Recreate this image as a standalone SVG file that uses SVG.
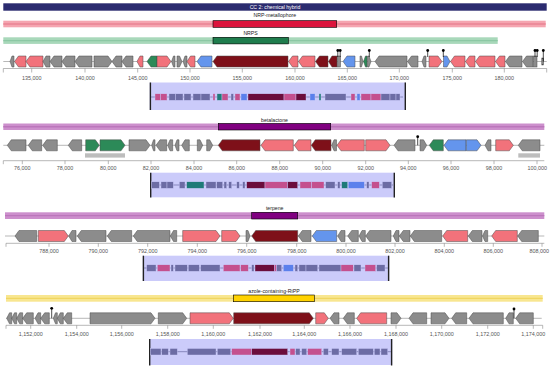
<svg xmlns="http://www.w3.org/2000/svg" width="550" height="370" viewBox="0 0 550 370">
<style>
text{font-family:"Liberation Sans",Arial,sans-serif}
.lbl{font-size:5.2px;fill:#222;text-anchor:middle}
.ax{font-size:5.4px;fill:#555;text-anchor:middle}
.axl{stroke:#888;stroke-width:.6;fill:none}
.bb{stroke:#999;stroke-width:.7}
.core{stroke:#000;stroke-width:.6}
.g,.p,.r,.n,.b{stroke:#4a4a4a;stroke-width:.5}
.g{fill:#8c8c8c}.p{fill:#f2727b}.r{fill:#7e1019}.n{fill:#2c8a58}.b{fill:#6495ed}
.box{fill:#cbcbfa}
.edge{stroke:#222;stroke-width:1.4}
.cl{stroke:#6c6ca4;stroke-width:.7}
.s,.k,.m,.u,.t{stroke:#cbcbfa;stroke-width:.4}
.s{fill:#6c6ca4}.k{fill:#c4508e}.m{fill:#6b0d3c}.u{fill:#5b80ec}.t{fill:#1e7b78}
.pin{stroke:#000;stroke-width:.7}
.dot{fill:#000}
.sh{fill:#bdbdbd}
</style>

<!-- ================= Panel 1 ================= -->
<g id="panel-nrps">
  <g id="cc-bar">
    <rect x="3.3" y="3.3" width="543.4" height="7.4" fill="#2b2b6f"/>
    <text x="275" y="8.8" class="lbl" style="fill:#fff">CC 2: chemical hybrid</text>
  </g>
  <g id="nrp-metallophore">
    <text x="274.8" y="17.4" class="lbl">NRP-metallophore</text>
    <rect x="3.3" y="20.7" width="542.4" height="6.6" fill="#f5a5b0"/>
    <line x1="3.3" y1="24" x2="545.7" y2="24" stroke="#e98595" stroke-width="1.3"/>
    <rect x="213" y="20.7" width="123.7" height="6.6" fill="#dc143c" class="core"/>
  </g>
  <g id="nrps">
    <text x="250.6" y="34.8" class="lbl">NRPS</text>
    <rect x="3.3" y="37.3" width="494.4" height="6.6" fill="#a8d8ba"/>
    <line x1="3.3" y1="40.6" x2="497.7" y2="40.6" stroke="#8cc8a4" stroke-width="1.3"/>
    <rect x="213" y="37.3" width="75.3" height="6.6" fill="#1f7d4d" class="core"/>
  </g>
  <g id="genes-1">
    <line x1="3.3" y1="61.5" x2="546.7" y2="61.5" class="bb"/>
    <path class="g" d="M10,61.5 L12,56 H14 V67 H12 Z"/>
    <path class="p" d="M14.5,61.5 L18.5,56 H26 V67 H18.5 Z"/>
    <path class="p" d="M26,61.5 L30,56 H43 V67 H30 Z"/>
    <path class="g" d="M43,61.5 L46,56 H50 V67 H46 Z"/>
    <path class="g" d="M50,61.5 L54,56 H62 V67 H54 Z"/>
    <path class="g" d="M62,61.5 L66,56 H75 V67 H66 Z"/>
    <path class="g" d="M75,61.5 L79,56 H92 V67 H79 Z"/>
    <path class="g" d="M94,56 H108 L112,61.5 L108,67 H94 Z"/>
    <path class="g" d="M112,61.5 L116,56 H122 V67 H116 Z"/>
    <path class="g" d="M122,61.5 L126,56 H133 V67 H126 Z"/>
    <path class="p" d="M137,61.5 L140,56 H143 V67 H140 Z"/>
    <path class="n" d="M147,61.5 L151,56 H157 V67 H151 Z"/>
    <path class="p" d="M157,56 H167 L171,61.5 L167,67 H157 Z"/>
    <path class="g" d="M171.5,61.5 L173.5,56 H175 V67 H173.5 Z"/>
    <path class="g" d="M177,56 H179.5 L182,61.5 L179.5,67 H177 Z"/>
    <path class="g" d="M183,61.5 L185,56 H187 V67 H185 Z"/>
    <path class="p" d="M187,61.5 L190.5,56 H195 V67 H190.5 Z"/>
    <path class="b" d="M197,61.5 L201,56 H212 V67 H201 Z"/>
    <path class="r" d="M213,61.5 L217,56 H288 V67 H217 Z"/>
    <path class="p" d="M288.5,61.5 L292.5,56 H298 V67 H292.5 Z"/>
    <path class="p" d="M298.5,61.5 L302.5,56 H315 V67 H302.5 Z"/>
    <path class="r" d="M315.5,61.5 L319.5,56 H328 V67 H319.5 Z"/>
    <path class="r" d="M328.5,61.5 L332,56 H337 V67 H332 Z"/>
    <rect class="g" x="337.5" y="56" width="3" height="11"/>
    <path class="b" d="M343,61.5 L347,56 H355 V67 H347 Z"/>
    <path class="g" d="M360,56 H361.5 L363,61.5 L361.5,67 H360 Z"/>
    <path class="n" d="M363.5,61.5 L365.5,56 H367 V67 H365.5 Z"/>
    <path class="g" d="M367.5,56 H369 L371,61.5 L369,67 H367.5 Z"/>
    <path class="g" d="M375,61.5 L379,56 H407 V67 H379 Z"/>
    <path class="g" d="M407.5,61.5 L411.5,56 H418 V67 H411.5 Z"/>
    <path class="g" d="M422,61.5 L424,56 H426 V67 H424 Z"/>
    <path class="p" d="M429,56 H438 L442,61.5 L438,67 H429 Z"/>
    <path class="b" d="M443.5,56 H447 L450,61.5 L447,67 H443.5 Z"/>
    <path class="p" d="M450.5,61.5 L454.5,56 H465 V67 H454.5 Z"/>
    <path class="p" d="M465.5,61.5 L469.5,56 H475 V67 H469.5 Z"/>
    <path class="p" d="M475.5,61.5 L479.5,56 H495 V67 H479.5 Z"/>
    <path class="p" d="M495.5,61.5 L499.5,56 H505 V67 H499.5 Z"/>
    <path class="g" d="M505.5,61.5 L509.5,56 H522 V67 H509.5 Z"/>
    <path class="g" d="M522.5,61.5 L526.5,56 H533 V67 H526.5 Z"/>
    <rect class="g" x="533.5" y="56" width="3.5" height="11"/>
    <rect class="g" x="541.8" y="58" width="1.8" height="7"/>
    <g id="pins-1">
      <line class="pin" x1="337.8" y1="50.5" x2="337.8" y2="57"/><circle class="dot" cx="337.8" cy="50.5" r="1.4"/>
      <line class="pin" x1="340.2" y1="50.5" x2="340.2" y2="57"/><circle class="dot" cx="340.2" cy="50.5" r="1.4"/>
      <line class="pin" x1="369.3" y1="50.5" x2="369.3" y2="57"/><circle class="dot" cx="369.3" cy="50.5" r="1.4"/>
      <line class="pin" x1="427.7" y1="50.5" x2="427.7" y2="57"/><circle class="dot" cx="427.7" cy="50.5" r="1.4"/>
      <line class="pin" x1="443.3" y1="50.5" x2="443.3" y2="57"/><circle class="dot" cx="443.3" cy="50.5" r="1.4"/>
      <line class="pin" x1="535" y1="50.5" x2="535" y2="57"/><circle class="dot" cx="535" cy="50.5" r="1.4"/>
      <line class="pin" x1="537.2" y1="50.5" x2="537.2" y2="57"/><circle class="dot" cx="537.2" cy="50.5" r="1.4"/>
      <line class="pin" x1="543.3" y1="50.5" x2="543.3" y2="61.5"/><circle class="dot" cx="543.3" cy="50.5" r="1.4"/>
    </g>
  </g>
  <g id="axis-1">
    <path class="axl" d="M3.3,68.5 H546.7 M3.3,68.5 v4 M31.7,68.5 v4 M85,68.5 v4 M137.7,68.5 v4 M190,68.5 v4 M242.3,68.5 v4 M295,68.5 v4 M347.3,68.5 v4 M399.3,68.5 v4 M452.3,68.5 v4 M504.3,68.5 v4 M546.7,68.5 v4"/>
    <text class="ax" x="31.7" y="79.5">135,000</text>
    <text class="ax" x="85" y="79.5">140,000</text>
    <text class="ax" x="137.7" y="79.5">145,000</text>
    <text class="ax" x="190" y="79.5">150,000</text>
    <text class="ax" x="242.3" y="79.5">155,000</text>
    <text class="ax" x="295" y="79.5">160,000</text>
    <text class="ax" x="347.3" y="79.5">165,000</text>
    <text class="ax" x="399.3" y="79.5">170,000</text>
    <text class="ax" x="452.3" y="79.5">175,000</text>
    <text class="ax" x="504.3" y="79.5">180,000</text>
  </g>
  <g id="zoom-1">
    <rect class="box" x="149.7" y="82.5" width="256.3" height="27.5"/>
    <line class="edge" x1="150.4" y1="82.5" x2="150.4" y2="110"/>
    <line class="edge" x1="405.3" y1="82.5" x2="405.3" y2="110"/>
    <line class="cl" x1="151" y1="97" x2="403" y2="97"/>
    <rect class="k" x="155" y="93.8" width="5.5" height="6.5"/>
    <rect class="k" x="160.5" y="93.8" width="6.5" height="6.5"/>
    <rect class="s" x="169" y="93.8" width="6.5" height="6.5"/>
    <rect class="s" x="175.5" y="93.8" width="7.5" height="6.5"/>
    <rect class="s" x="184" y="93.8" width="7" height="6.5"/>
    <rect class="s" x="193" y="93.8" width="8" height="6.5"/>
    <rect class="s" x="201" y="93.8" width="9" height="6.5"/>
    <rect class="k" x="213" y="93.8" width="2" height="6.5"/>
    <rect class="t" x="217" y="93.8" width="5" height="6.5"/>
    <rect class="k" x="222" y="93.8" width="6" height="6.5"/>
    <rect class="s" x="231" y="93.8" width="2.5" height="6.5"/>
    <rect class="k" x="235" y="93.8" width="5" height="6.5"/>
    <rect class="u" x="241" y="93.8" width="6" height="6.5"/>
    <rect class="m" x="248" y="93.8" width="36" height="6.5"/>
    <rect class="k" x="284" y="93.8" width="12" height="6.5"/>
    <rect class="m" x="296" y="93.8" width="10" height="6.5"/>
    <rect class="u" x="310" y="93.8" width="5" height="6.5"/>
    <rect class="t" x="319" y="93.8" width="2" height="6.5"/>
    <rect class="s" x="325" y="93.8" width="21" height="6.5"/>
    <rect class="k" x="351" y="93.8" width="4" height="6.5"/>
    <rect class="u" x="357" y="93.8" width="3" height="6.5"/>
    <rect class="k" x="361" y="93.8" width="10" height="6.5"/>
    <rect class="k" x="371" y="93.8" width="10" height="6.5"/>
    <rect class="s" x="381" y="93.8" width="9" height="6.5"/>
    <rect class="s" x="390" y="93.8" width="6" height="6.5"/>
    <rect class="s" x="396" y="93.8" width="4" height="6.5"/>
  </g>
</g>

<!-- ================= Panel 2 ================= -->
<g id="panel-betalactone">
  <g id="betalactone">
    <text x="274.5" y="121.8" class="lbl">betalactone</text>
    <rect x="3.3" y="123.5" width="541" height="6.5" fill="#cc8fcc"/>
    <line x1="3.3" y1="126.75" x2="544.3" y2="126.75" stroke="#bb76bb" stroke-width="1.3"/>
    <rect x="218.3" y="123.5" width="112.4" height="6.5" fill="#800080" class="core"/>
  </g>
  <g id="genes-2">
    <line x1="3.3" y1="145.3" x2="544.3" y2="145.3" class="bb"/>
    <path class="g" d="M7.3,145.3 L11.3,139.8 H26 V150.8 H11.3 Z"/>
    <path class="g" d="M28.3,145.3 L32.3,139.8 H41.7 V150.8 H32.3 Z"/>
    <path class="g" d="M42.7,145.3 L46.7,139.8 H57.3 V150.8 H46.7 Z"/>
    <path class="g" d="M68.3,145.3 L72.3,139.8 H81.7 V150.8 H72.3 Z"/>
    <path class="n" d="M85.7,139.8 H95.3 L99.3,145.3 L95.3,150.8 H85.7 Z"/>
    <path class="n" d="M100,139.8 H121 L125,145.3 L121,150.8 H100 Z"/>
    <path class="g" d="M129,139.8 H146 L150,145.3 L146,150.8 H129 Z"/>
    <path class="g" d="M151.7,145.3 L153.5,139.8 H155 V150.8 H153.5 Z"/>
    <path class="g" d="M156,145.3 L160,139.8 H166.7 V150.8 H160 Z"/>
    <path class="g" d="M167.7,145.3 L170,139.8 H172.7 V150.8 H170 Z"/>
    <path class="g" d="M175,145.3 L177,139.8 H179 V150.8 H177 Z"/>
    <path class="g" d="M181.7,145.3 L185,139.8 H189.3 V150.8 H185 Z"/>
    <path class="g" d="M197.3,139.8 H200 L202.7,145.3 L200,150.8 H197.3 Z"/>
    <path class="g" d="M206.7,139.8 H209.7 L212.7,145.3 L209.7,150.8 H206.7 Z"/>
    <path class="r" d="M218.3,145.3 L222.3,139.8 H260 V150.8 H222.3 Z"/>
    <path class="p" d="M261,145.3 L265,139.8 H293.3 V150.8 H265 Z"/>
    <path class="p" d="M294.3,145.3 L298.3,139.8 H311 V150.8 H298.3 Z"/>
    <path class="r" d="M311.3,145.3 L315.3,139.8 H331 V150.8 H315.3 Z"/>
    <path class="g" d="M331.7,145.3 L334,139.8 H336.5 V150.8 H334 Z"/>
    <path class="p" d="M337,145.3 L341,139.8 H364.3 V150.8 H341 Z"/>
    <path class="p" d="M365.7,139.8 H386 L390,145.3 L386,150.8 H365.7 Z"/>
    <path class="g" d="M394,145.3 L398,139.8 H415 V150.8 H398 Z"/>
    <path class="g" d="M420,139.8 H423.5 L426.7,145.3 L423.5,150.8 H420 Z"/>
    <path class="n" d="M429.3,145.3 L433.3,139.8 H443.3 V150.8 H433.3 Z"/>
    <path class="b" d="M444,145.3 L448,139.8 H466 V150.8 H448 Z"/>
    <path class="b" d="M466.3,139.8 H477 L481,145.3 L477,150.8 H466.3 Z"/>
    <path class="g" d="M485,145.3 L488,139.8 H491 V150.8 H488 Z"/>
    <path class="p" d="M495.7,139.8 H509.3 L513.3,145.3 L509.3,150.8 H495.7 Z"/>
    <path class="g" d="M518.3,145.3 L522.3,139.8 H540 V150.8 H522.3 Z"/>
    <line class="pin" x1="417.7" y1="136.7" x2="417.7" y2="145.3"/><circle class="dot" cx="417.7" cy="136.7" r="1.4"/>
    <rect class="sh" x="85" y="153.3" width="40" height="4.3"/>
    <rect class="sh" x="518.3" y="153.3" width="21.7" height="4.3"/>
  </g>
  <g id="axis-2">
    <path class="axl" d="M3.3,160.7 H544.3 M3.3,160.7 v3.5 M22.3,160.7 v3.5 M65,160.7 v3.5 M108.3,160.7 v3.5 M151,160.7 v3.5 M194,160.7 v3.5 M236.7,160.7 v3.5 M279.7,160.7 v3.5 M322.7,160.7 v3.5 M365.7,160.7 v3.5 M408.3,160.7 v3.5 M451,160.7 v3.5 M494,160.7 v3.5 M537,160.7 v3.5"/>
    <text class="ax" x="22.3" y="169.8">76,000</text>
    <text class="ax" x="65" y="169.8">78,000</text>
    <text class="ax" x="108.3" y="169.8">80,000</text>
    <text class="ax" x="151" y="169.8">82,000</text>
    <text class="ax" x="194" y="169.8">84,000</text>
    <text class="ax" x="236.7" y="169.8">86,000</text>
    <text class="ax" x="279.7" y="169.8">88,000</text>
    <text class="ax" x="322.7" y="169.8">90,000</text>
    <text class="ax" x="365.7" y="169.8">92,000</text>
    <text class="ax" x="408.3" y="169.8">94,000</text>
    <text class="ax" x="451" y="169.8">96,000</text>
    <text class="ax" x="494" y="169.8">98,000</text>
    <text class="ax" x="537.3" y="169.8">100,000</text>
  </g>
  <g id="zoom-2">
    <rect class="box" x="150" y="172.7" width="245" height="24.6"/>
    <line class="edge" x1="150.7" y1="172.7" x2="150.7" y2="197.5"/>
    <line class="edge" x1="394.3" y1="172.7" x2="394.3" y2="197.5"/>
    <line class="cl" x1="151" y1="185" x2="393" y2="185"/>
    <rect class="s" x="151.7" y="181.8" width="7.6" height="6.5"/>
    <rect class="s" x="161" y="181.8" width="6" height="6.5"/>
    <rect class="s" x="167" y="181.8" width="6.3" height="6.5"/>
    <rect class="s" x="179.3" y="181.8" width="5.7" height="6.5"/>
    <rect class="t" x="186.7" y="181.8" width="17.3" height="6.5"/>
    <rect class="s" x="206" y="181.8" width="10" height="6.5"/>
    <rect class="s" x="216.7" y="181.8" width="6" height="6.5"/>
    <rect class="s" x="224" y="181.8" width="2.7" height="6.5"/>
    <rect class="s" x="228.7" y="181.8" width="3" height="6.5"/>
    <rect class="s" x="236.7" y="181.8" width="2.6" height="6.5"/>
    <rect class="s" x="242.7" y="181.8" width="2.3" height="6.5"/>
    <rect class="m" x="246.7" y="181.8" width="18.3" height="6.5"/>
    <rect class="k" x="265" y="181.8" width="22.7" height="6.5"/>
    <rect class="m" x="287.7" y="181.8" width="10" height="6.5"/>
    <rect class="k" x="300" y="181.8" width="11.7" height="6.5"/>
    <rect class="k" x="311.7" y="181.8" width="12.3" height="6.5"/>
    <rect class="s" x="325.7" y="181.8" width="9.3" height="6.5"/>
    <rect class="s" x="337.7" y="181.8" width="2.3" height="6.5"/>
    <rect class="t" x="341.7" y="181.8" width="6" height="6.5"/>
    <rect class="u" x="348.3" y="181.8" width="16" height="6.5"/>
    <rect class="s" x="366.7" y="181.8" width="2.3" height="6.5"/>
    <rect class="k" x="371.7" y="181.8" width="7.6" height="6.5"/>
    <rect class="s" x="382.3" y="181.8" width="9.4" height="6.5"/>
  </g>
</g>

<!-- ================= Panel 3 ================= -->
<g id="panel-terpene">
  <g id="terpene">
    <text x="274.7" y="210.2" class="lbl">terpene</text>
    <rect x="5" y="212.3" width="539.3" height="6.7" fill="#cc8fcc"/>
    <line x1="5" y1="215.65" x2="544.3" y2="215.65" stroke="#bb76bb" stroke-width="1.3"/>
    <rect x="251.7" y="212.3" width="46" height="6.7" fill="#800080" class="core"/>
  </g>
  <g id="genes-3">
    <line x1="5" y1="236" x2="544.3" y2="236" class="bb"/>
    <path class="g" d="M15,236 L19,230.5 H36.7 V241.5 H19 Z"/>
    <path class="p" d="M38.3,230.5 H64.3 L68.3,236 L64.3,241.5 H38.3 Z"/>
    <path class="g" d="M68.7,236 L72,230.5 H76 V241.5 H72 Z"/>
    <path class="g" d="M77.3,236 L81.3,230.5 H106 V241.5 H81.3 Z"/>
    <path class="g" d="M107.3,236 L111.3,230.5 H131.7 V241.5 H111.3 Z"/>
    <path class="g" d="M133.3,236 L137.3,230.5 H170 V241.5 H137.3 Z"/>
    <path class="g" d="M170.3,236 L173.5,230.5 H176.7 V241.5 H173.5 Z"/>
    <path class="p" d="M182.7,230.5 H216 L220,236 L216,241.5 H182.7 Z"/>
    <path class="p" d="M221.7,230.5 H236 L240,236 L236,241.5 H221.7 Z"/>
    <path class="g" d="M246,230.5 H248 L250,236 L248,241.5 H246 Z"/>
    <path class="r" d="M251.7,236 L255.7,230.5 H297.7 V241.5 H255.7 Z"/>
    <path class="g" d="M298.3,236 L302.3,230.5 H311 V241.5 H302.3 Z"/>
    <path class="b" d="M312.3,236 L316.3,230.5 H336.7 V241.5 H316.3 Z"/>
    <path class="g" d="M337.7,236 L341,230.5 H345 V241.5 H341 Z"/>
    <path class="g" d="M347.7,236 L351.7,230.5 H358.3 V241.5 H351.7 Z"/>
    <path class="g" d="M359,236 L362,230.5 H365.3 V241.5 H362 Z"/>
    <path class="g" d="M365.7,236 L369.7,230.5 H391 V241.5 H369.7 Z"/>
    <path class="g" d="M393.3,236 L396,230.5 H399 V241.5 H396 Z"/>
    <path class="g" d="M399.3,236 L403.3,230.5 H410 V241.5 H403.3 Z"/>
    <path class="g" d="M410.3,236 L414.3,230.5 H441.7 V241.5 H414.3 Z"/>
    <path class="p" d="M442.7,236 L446.7,230.5 H467.7 V241.5 H446.7 Z"/>
    <path class="g" d="M468.3,236 L472.3,230.5 H482 V241.5 H472.3 Z"/>
    <path class="g" d="M482.5,236 L485,230.5 H487.7 V241.5 H485 Z"/>
    <path class="p" d="M491.7,236 L495.7,230.5 H517.3 V241.5 H495.7 Z"/>
    <path class="g" d="M517.7,236 L521.7,230.5 H538.3 V241.5 H521.7 Z"/>
  </g>
  <g id="axis-3">
    <path class="axl" d="M6,243.3 H544.3 M6,243.3 v3.5 M49,243.3 v3.5 M98.3,243.3 v3.5 M147.7,243.3 v3.5 M197.3,243.3 v3.5 M246.7,243.3 v3.5 M296.7,243.3 v3.5 M346,243.3 v3.5 M395,243.3 v3.5 M444.3,243.3 v3.5 M493.3,243.3 v3.5 M542,243.3 v3.5"/>
    <text class="ax" x="49" y="252.8">788,000</text>
    <text class="ax" x="98.3" y="252.8">790,000</text>
    <text class="ax" x="147.7" y="252.8">792,000</text>
    <text class="ax" x="197.3" y="252.8">794,000</text>
    <text class="ax" x="246.7" y="252.8">796,000</text>
    <text class="ax" x="296.7" y="252.8">798,000</text>
    <text class="ax" x="346" y="252.8">800,000</text>
    <text class="ax" x="395" y="252.8">802,000</text>
    <text class="ax" x="444.3" y="252.8">804,000</text>
    <text class="ax" x="493.3" y="252.8">806,000</text>
    <text class="ax" x="539.3" y="252.8">808,000</text>
  </g>
  <g id="zoom-3">
    <rect class="box" x="142.7" y="255.7" width="246.6" height="25.3"/>
    <line class="edge" x1="143.4" y1="255.7" x2="143.4" y2="281"/>
    <line class="edge" x1="388.6" y1="255.7" x2="388.6" y2="281"/>
    <line class="cl" x1="144" y1="268" x2="388" y2="268"/>
    <rect class="s" x="146.7" y="264.8" width="9.3" height="6.5"/>
    <rect class="k" x="157.3" y="264.8" width="12.7" height="6.5"/>
    <rect class="s" x="171" y="264.8" width="2.3" height="6.5"/>
    <rect class="s" x="175" y="264.8" width="12.3" height="6.5"/>
    <rect class="s" x="188.3" y="264.8" width="11" height="6.5"/>
    <rect class="s" x="200.7" y="264.8" width="19.3" height="6.5"/>
    <rect class="k" x="223.3" y="264.8" width="16.7" height="6.5"/>
    <rect class="k" x="240.7" y="264.8" width="7.6" height="6.5"/>
    <rect class="s" x="251.7" y="264.8" width="2.3" height="6.5"/>
    <rect class="m" x="255" y="264.8" width="19.5" height="6.5"/>
    <rect class="k" x="274.5" y="264.8" width="2.2" height="6.5"/>
    <rect class="s" x="276.7" y="264.8" width="5" height="6.5"/>
    <rect class="u" x="283.3" y="264.8" width="10" height="6.5"/>
    <rect class="s" x="295" y="264.8" width="2.7" height="6.5"/>
    <rect class="s" x="299" y="264.8" width="7" height="6.5"/>
    <rect class="s" x="306" y="264.8" width="11.7" height="6.5"/>
    <rect class="s" x="319" y="264.8" width="22" height="6.5"/>
    <rect class="k" x="341" y="264.8" width="12.3" height="6.5"/>
    <rect class="s" x="354" y="264.8" width="7" height="6.5"/>
    <rect class="k" x="365" y="264.8" width="10.7" height="6.5"/>
    <rect class="s" x="376.7" y="264.8" width="8.3" height="6.5"/>
  </g>
</g>

<!-- ================= Panel 4 ================= -->
<g id="panel-ripp">
  <g id="azole-ripp">
    <text x="274" y="292.8" class="lbl">azole-containing-RiPP</text>
    <rect x="6" y="295" width="536.7" height="6.7" fill="#f8e690"/>
    <line x1="6" y1="298.35" x2="542.7" y2="298.35" stroke="#f0d662" stroke-width="1.3"/>
    <rect x="233.3" y="295" width="81" height="6.7" fill="#ffd200" class="core"/>
  </g>
  <g id="genes-4">
    <line x1="6" y1="318.3" x2="541.7" y2="318.3" class="bb"/>
    <path class="g" d="M6.7,318.3 L9.5,312.8 H11.7 V323.8 H9.5 Z"/>
    <path class="g" d="M11.7,318.3 L14.5,312.8 H16.7 V323.8 H14.5 Z"/>
    <path class="g" d="M16.7,318.3 L19.7,312.8 H22.7 V323.8 H19.7 Z"/>
    <path class="g" d="M22.7,318.3 L26.7,312.8 H33.3 V323.8 H26.7 Z"/>
    <path class="g" d="M35,318.3 L38,312.8 H40.7 V323.8 H38 Z"/>
    <path class="g" d="M40.7,318.3 L44.7,312.8 H49.3 V323.8 H44.7 Z"/>
    <path class="g" d="M53.3,318.3 L55.5,312.8 H57.3 V323.8 H55.5 Z"/>
    <path class="g" d="M57.3,318.3 L60.3,312.8 H63.3 V323.8 H60.3 Z"/>
    <path class="g" d="M63.3,318.3 L67.3,312.8 H71.7 V323.8 H67.3 Z"/>
    <path class="g" d="M90,312.8 H151 L155,318.3 L151,323.8 H90 Z"/>
    <path class="g" d="M158.3,312.8 H182.7 L186.7,318.3 L182.7,323.8 H158.3 Z"/>
    <path class="p" d="M190,312.8 H229.3 L233.3,318.3 L229.3,323.8 H190 Z"/>
    <path class="r" d="M233.7,312.8 H309.3 L313.3,318.3 L309.3,323.8 H233.7 Z"/>
    <path class="p" d="M315.7,312.8 H324.3 L328.3,318.3 L324.3,323.8 H315.7 Z"/>
    <path class="g" d="M330,318.3 L334,312.8 H339 V323.8 H334 Z"/>
    <path class="g" d="M343.3,318.3 L347.3,312.8 H354.3 V323.8 H347.3 Z"/>
    <path class="p" d="M356.7,318.3 L360.7,312.8 H386.7 V323.8 H360.7 Z"/>
    <path class="g" d="M391,312.8 H397 L401,318.3 L397,323.8 H391 Z"/>
    <path class="g" d="M409,318.3 L413,312.8 H426.7 V323.8 H413 Z"/>
    <path class="g" d="M431,312.8 H445 L449,318.3 L445,323.8 H431 Z"/>
    <path class="g" d="M451.7,318.3 L455.7,312.8 H466.7 V323.8 H455.7 Z"/>
    <path class="g" d="M469,318.3 L473,312.8 H503.3 V323.8 H473 Z"/>
    <path class="g" d="M505.7,318.3 L509,312.8 H513.3 V323.8 H509 Z"/>
    <path class="g" d="M515.7,318.3 L519.7,312.8 H533.3 V323.8 H519.7 Z"/>
    <line class="pin" x1="51.7" y1="308.3" x2="51.7" y2="318.3"/><circle class="dot" cx="51.7" cy="308.3" r="1.4"/>
    <line class="pin" x1="514" y1="309" x2="514" y2="318.3"/><circle class="dot" cx="514" cy="309" r="1.4"/>
  </g>
  <g id="axis-4">
    <path class="axl" d="M6,325.3 H542.7 M6,325.3 v3.5 M30.7,325.3 v3.5 M76.7,325.3 v3.5 M121.7,325.3 v3.5 M167.7,325.3 v3.5 M213.3,325.3 v3.5 M260,325.3 v3.5 M304.3,325.3 v3.5 M350,325.3 v3.5 M396,325.3 v3.5 M441.7,325.3 v3.5 M487.7,325.3 v3.5 M533.3,325.3 v3.5 M542.7,325.3 v3.5"/>
    <text class="ax" x="30.7" y="336">1,152,000</text>
    <text class="ax" x="76.7" y="336">1,154,000</text>
    <text class="ax" x="121.7" y="336">1,156,000</text>
    <text class="ax" x="167.7" y="336">1,158,000</text>
    <text class="ax" x="213.3" y="336">1,160,000</text>
    <text class="ax" x="260" y="336">1,162,000</text>
    <text class="ax" x="304.3" y="336">1,164,000</text>
    <text class="ax" x="350" y="336">1,166,000</text>
    <text class="ax" x="396" y="336">1,168,000</text>
    <text class="ax" x="441.7" y="336">1,170,000</text>
    <text class="ax" x="487.7" y="336">1,172,000</text>
    <text class="ax" x="533.3" y="336">1,174,000</text>
  </g>
  <g id="zoom-4">
    <rect class="box" x="149" y="339" width="243.3" height="26"/>
    <line class="edge" x1="149.7" y1="339" x2="149.7" y2="365.5"/>
    <line class="edge" x1="391.6" y1="339" x2="391.6" y2="365.5"/>
    <line class="cl" x1="150" y1="351.7" x2="391" y2="351.7"/>
    <rect class="s" x="150.5" y="348.5" width="10.5" height="6.5"/>
    <rect class="s" x="161.7" y="348.5" width="6.6" height="6.5"/>
    <rect class="s" x="170" y="348.5" width="7.3" height="6.5"/>
    <rect class="s" x="187.3" y="348.5" width="28.7" height="6.5"/>
    <rect class="s" x="217.3" y="348.5" width="13.4" height="6.5"/>
    <rect class="k" x="231.7" y="348.5" width="20" height="6.5"/>
    <rect class="m" x="251.7" y="348.5" width="36" height="6.5"/>
    <rect class="k" x="290" y="348.5" width="5" height="6.5"/>
    <rect class="s" x="295.7" y="348.5" width="4.3" height="6.5"/>
    <rect class="s" x="301.7" y="348.5" width="5" height="6.5"/>
    <rect class="k" x="307.7" y="348.5" width="14" height="6.5"/>
    <rect class="s" x="323.3" y="348.5" width="5" height="6.5"/>
    <rect class="s" x="331.7" y="348.5" width="7.3" height="6.5"/>
    <rect class="s" x="341.7" y="348.5" width="15" height="6.5"/>
    <rect class="s" x="358.3" y="348.5" width="15" height="6.5"/>
    <rect class="s" x="374.3" y="348.5" width="5.7" height="6.5"/>
    <rect class="s" x="381" y="348.5" width="6.7" height="6.5"/>
  </g>
</g>
</svg>
